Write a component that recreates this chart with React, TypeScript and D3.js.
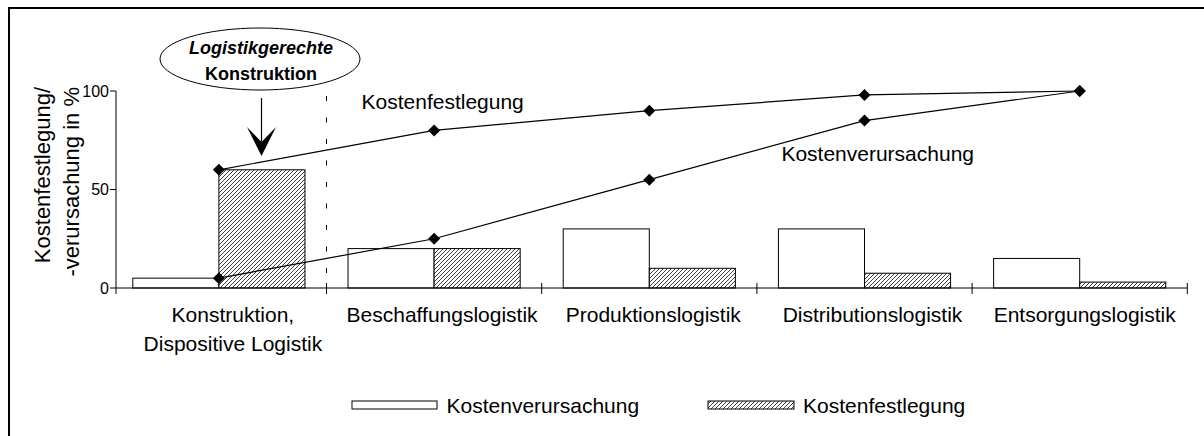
import React from "react";
import * as d3 from "d3";

const categories = [
  ["Konstruktion,", "Dispositive Logistik"],
  ["Beschaffungslogistik"],
  ["Produktionslogistik"],
  ["Distributionslogistik"],
  ["Entsorgungslogistik"],
];
const seriesNames = ["Kostenverursachung", "Kostenfestlegung"];
const barVerursachung = [5, 20, 30, 30, 15];
const barFestlegung = [60, 20, 10, 7.5, 3];
const lineFestlegung = [60, 80, 90, 98, 100];
const lineVerursachung = [5, 25, 55, 85, 100];
const yTicks = [0, 50, 100];

const W = 1204;
const H = 436;
const FONT = "'Liberation Sans', Arial, Helvetica, sans-serif";
const LABEL_SHIFT = [14, 8, 4, 8, 5];

export default function App() {
  const x = d3
    .scaleBand<number>()
    .domain(d3.range(categories.length))
    .range([111.3, 1187.3])
    .paddingInner(0.2)
    .paddingOuter(0.1);
  const step = x.step();
  const gap = (step - x.bandwidth()) / 2;
  const groupStart = (i: number) => x(i) as number;
  const sub = d3.scaleBand<number>().domain([0, 1]).range([0, x.bandwidth()]);
  const y = d3.scaleLinear().domain([0, 100]).range([288, 91]);
  const cx = (i: number) => groupStart(i) + x.bandwidth() / 2;
  const boundary = (i: number) =>
    i < categories.length ? groupStart(i) - gap : groupStart(categories.length - 1) + x.bandwidth() + gap;
  const axisX = 116;
  const y0 = y(0);

  const lineGen = d3
    .line<number>()
    .x((_, i) => cx(i))
    .y((d) => y(d));

  const diamond = (px: number, py: number) =>
    `M${px},${py - 6}L${px + 6},${py}L${px},${py + 6}L${px - 6},${py}Z`;

  const bars: [number[], string][] = [
    [barVerursachung, "#fff"],
    [barFestlegung, "url(#hatch)"],
  ];

  return (
    <div style={{ position: "absolute", left: 0, top: 0 }}>
      <svg width={W} height={H} style={{ display: "block", fontFamily: FONT }}>
        <defs>
          <pattern id="hatch" patternUnits="userSpaceOnUse" width="4" height="4">
            <rect width="4" height="4" fill="#fff" />
            <path d="M-1,1 l2,-2 M0,4 l4,-4 M3,5 l2,-2" stroke="#000" strokeWidth="0.75" />
          </pattern>
        </defs>
        <rect x={0} y={0} width={W} height={H} fill="#fff" />
        {/* frame */}
        <rect x={9} y={8} width={1300} height={1000} fill="none" stroke="#000" strokeWidth={2} />

        {/* bars */}
        {bars.map(([vals, fill], s) =>
          vals.map((v, i) => (
            <rect
              key={`b${s}-${i}`}
              x={groupStart(i) + (sub(s) as number)}
              y={y(v)}
              width={sub.bandwidth()}
              height={y0 - y(v)}
              fill={fill}
              stroke="#000"
              strokeWidth={1}
            />
          ))
        )}

        {/* axes */}
        <line x1={axisX} x2={axisX} y1={y(100)} y2={y0 + 6} stroke="#000" />
        <line x1={axisX} x2={boundary(categories.length)} y1={y0} y2={y0} stroke="#000" />
        {yTicks.map((t) => (
          <g key={`yt${t}`}>
            <line x1={axisX - 6} x2={axisX} y1={y(t)} y2={y(t)} stroke="#000" />
            <text x={axisX - 7} y={y(t)} dy="0.35em" textAnchor="end" fontSize={16} fill="#000">
              {t}
            </text>
          </g>
        ))}
        {d3.range(1, categories.length + 1).map((i) => (
          <line key={`xt${i}`} x1={boundary(i)} x2={boundary(i)} y1={y0 - 5} y2={y0 + 6} stroke="#000" />
        ))}
        {/* dashed separator */}
        <line
          x1={boundary(1)}
          x2={boundary(1)}
          y1={96}
          y2={y0 + 6}
          stroke="#000"
          strokeDasharray="5,16.5"
        />

        {/* category labels */}
        {categories.map((lines, i) => (
          <text
            key={`c${i}`}
            x={cx(i) + LABEL_SHIFT[i]}
            y={322}
            textAnchor="middle"
            fontSize={21}
            fill="#000"
          >
            {lines.map((l, k) => (
              <tspan key={k} x={cx(i) + LABEL_SHIFT[i]} dy={k === 0 ? 0 : 28.5}>
                {l}
              </tspan>
            ))}
          </text>
        ))}

        {/* y title */}
        <text transform="translate(49.5,87) rotate(-90)" textAnchor="end" fontSize={22} fill="#000">
          Kostenfestlegung/
        </text>
        <text transform="translate(78.5,87) rotate(-90)" textAnchor="end" fontSize={22} fill="#000">
          -verursachung in %
        </text>

        {/* lines */}
        <path d={lineGen(lineFestlegung) || ""} fill="none" stroke="#000" strokeWidth={1.2} />
        <path d={lineGen(lineVerursachung) || ""} fill="none" stroke="#000" strokeWidth={1.2} />
        {lineFestlegung.map((v, i) => (
          <path key={`df${i}`} d={diamond(cx(i), y(v))} fill="#000" />
        ))}
        {lineVerursachung.map((v, i) => (
          <path key={`dv${i}`} d={diamond(cx(i), y(v))} fill="#000" />
        ))}
        <text x={361.5} y={109} fontSize={21} fill="#000">
          {seriesNames[1]}
        </text>
        <text x={974} y={161} textAnchor="end" fontSize={21} fill="#000">
          {seriesNames[0]}
        </text>

        {/* annotation */}
        <ellipse cx={260} cy={59} rx={100} ry={31} fill="#fff" stroke="#000" strokeWidth={1} />
        <text x={261} y={54} textAnchor="middle" fontSize={18} fontWeight="bold" fontStyle="italic" fill="#000">
          Logistikgerechte
        </text>
        <text x={261} y={80} textAnchor="middle" fontSize={18} fontWeight="bold" fill="#000">
          Konstruktion
        </text>
        <line x1={261.5} x2={261.5} y1={98} y2={145} stroke="#000" strokeWidth={1.2} />
        <path d="M247,127 L261.5,142 L276,127 L261.5,156 Z" fill="#000" />

        {/* legend */}
        <rect x={352} y={401} width={85} height={8} fill="#fff" stroke="#000" />
        <text x={446.5} y={412.5} fontSize={21} fill="#000">
          {seriesNames[0]}
        </text>
        <rect x={708} y={401} width={86} height={8} fill="url(#hatch)" stroke="#000" />
        <text x={803} y={412.5} fontSize={21} fill="#000">
          {seriesNames[1]}
        </text>
      </svg>
    </div>
  );
}
